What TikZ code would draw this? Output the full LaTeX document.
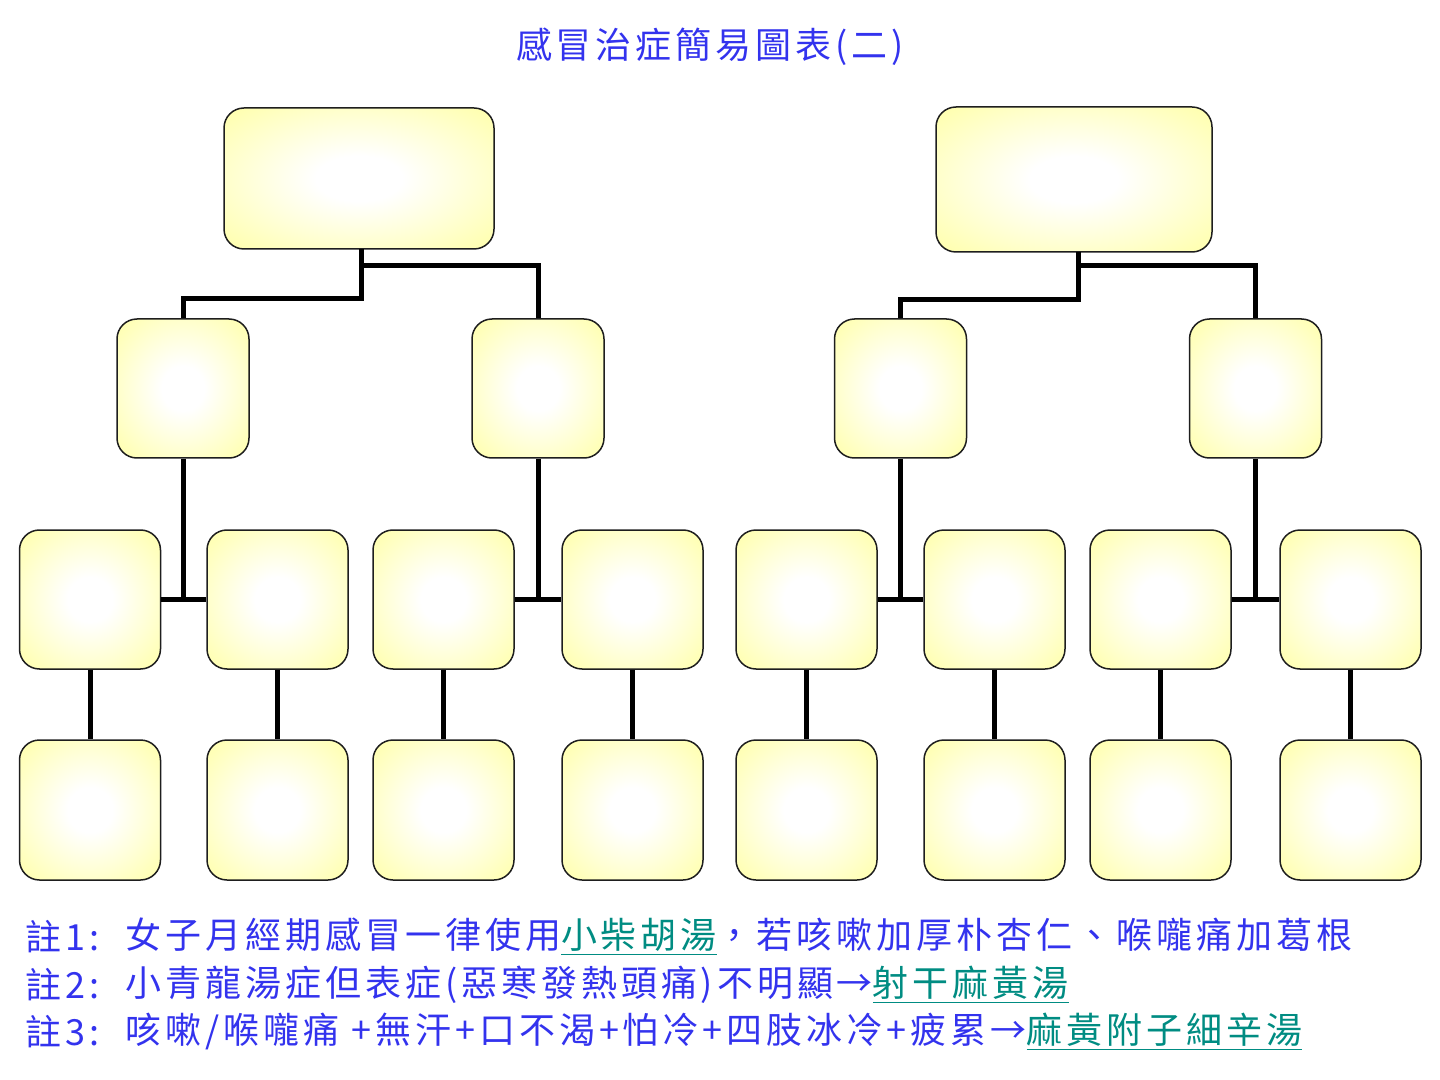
\documentclass[tikz,border=0pt]{standalone}
\usepackage{fontspec}
\newfontfamily\cjk{Noto Sans CJK TC}[LetterSpace=11]
\definecolor{txtblue}{RGB}{51,51,238}
\definecolor{teal2}{RGB}{0,140,130}
\definecolor{boxyel}{RGB}{255,255,150}
\definecolor{boxline}{RGB}{30,30,30}
\pgfdeclareradialshading{boxshade}{\pgfpoint{0bp}{0bp}}{color(0bp)=(white); color(8bp)=(white); color(42bp)=(boxyel); color(100bp)=(boxyel)}
\begin{document}
\begin{tikzpicture}[x=0.5pt,y=-0.5pt,
  box/.style={draw=boxline, line width=0.75pt, rounded corners=10pt, shading=boxshade, inner sep=0pt},
  conn/.style={line width=2.5pt, black},
  note/.style={font=\cjk\fontsize{18}{20}\selectfont, text=txtblue, inner sep=0pt, anchor=west}]
\useasboundingbox (0,0) rectangle (1440,1080);
% title
\node[font=\cjk\fontsize{18}{20}\selectfont, text=txtblue, inner sep=0pt] (title) at (710,47) {感冒治症簡易圖表(二)};
% top boxes
\node[box, minimum width=135pt, minimum height=70.5pt] (T1) at (359,178.5) {};
\node[box, minimum width=138pt, minimum height=72.5pt] (T2) at (1074,179.5) {};
% level 2
\foreach \n/\x in {L1/183, L2/538, R1/900.5, R2/1255.5}
  \node[box, minimum width=66pt, minimum height=69.5pt] (\n) at (\x,388.5) {};
% level 3 and 4
\foreach \i/\x in {1/90, 2/277.5, 3/443.5, 4/632.5, 5/806.5, 6/994.5, 7/1160.5, 8/1350.5} {
  \node[box, minimum width=70.5pt, minimum height=69.5pt] (A\i) at (\x,599.5) {};
  \node[box, minimum width=70.5pt, minimum height=70pt] (B\i) at (\x,810) {};
}
% connectors top -> level 2
\coordinate (t1s) at (361,249.5);
\coordinate (t2s) at (1078,252.5);
\draw[conn] (t1s) -- (361,299) -| (L1.north);
\draw[conn] (361,266) -| (L2.north);
\draw[conn] (t2s) -- (1078,300) -| (R1.north);
\draw[conn] (1078,266) -| (R2.north);
% level 2 -> level 3
\draw[conn] (L1.south) -- (L1.south |- A1.east);
\draw[conn] (A1.east) -- (A2.west);
\draw[conn] (L2.south) -- (L2.south |- A3.east);
\draw[conn] (A3.east) -- (A4.west);
\draw[conn] (R1.south) -- (R1.south |- A5.east);
\draw[conn] (A5.east) -- (A6.west);
\draw[conn] (R2.south) -- (R2.south |- A7.east);
\draw[conn] (A7.east) -- (A8.west);
% level 3 -> level 4
\foreach \i in {1,...,8} \draw[conn] (A\i.south) -- (B\i.north);
% notes
\node[note] (n1a) at (25,937) {註1:};
\node[note] (n1b) at (125,937) {女子月經期感冒一律使用\textcolor{teal2}{\underline{小柴胡湯}}，若咳嗽加厚朴杏仁、喉嚨痛加葛根};
\node[note] (n2a) at (25,985) {註2:};
\node[note] (n2b) at (125,985) {小青龍湯症但表症(惡寒發熱頭痛)不明顯→\textcolor{teal2}{\underline{射干麻黃湯}}};
\node[note] (n3a) at (25,1032) {註3:};
\node[note] (n3b) at (125,1032) {咳嗽/喉嚨痛 +無汗+口不渴+怕冷+四肢冰冷+疲累→\textcolor{teal2}{\underline{麻黃附子細辛湯}}};
\end{tikzpicture}
\end{document}
